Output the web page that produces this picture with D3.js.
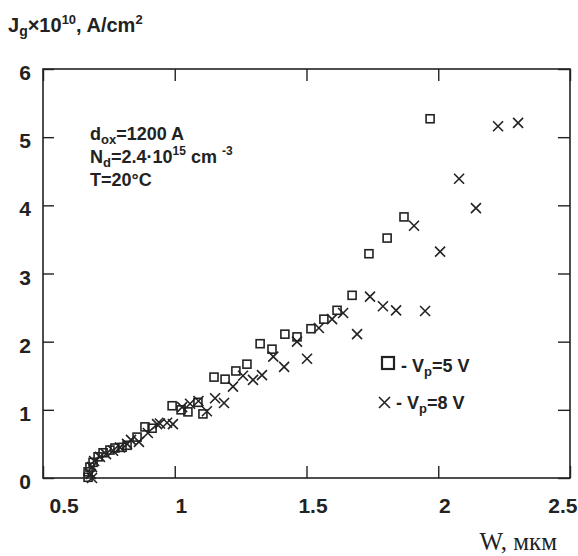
<!DOCTYPE html>
<html>
<head>
<meta charset="utf-8">
<script src="https://cdn.jsdelivr.net/npm/d3@7"></script>
<style>
  html, body { margin: 0; padding: 0; background: #fff; }
  svg { display: block; }
</style>
</head>
<body>
<svg id="chart" width="578" height="556"></svg>
<script>
// ---- data ----
const xTicks = [0.5, 1, 1.5, 2, 2.5];
const yTicks = [0, 1, 2, 3, 4, 5, 6];

const vp5W = [0.671, 0.671, 0.678, 0.690, 0.709, 0.728, 0.754, 0.773, 0.800, 0.819, 0.857, 0.887, 0.914,
  0.990, 1.024, 1.050, 1.088, 1.107, 1.149, 1.191, 1.232, 1.274, 1.324, 1.369, 1.418, 1.464, 1.517,
  1.566, 1.616, 1.673, 1.737, 1.806, 1.870, 1.969];
const vp5J = [0.01, 0.09, 0.16, 0.23, 0.31, 0.37, 0.41, 0.44, 0.45, 0.48, 0.60, 0.75, 0.73,
  1.06, 1.00, 0.97, 1.11, 0.94, 1.48, 1.45, 1.57, 1.67, 1.97, 1.89, 2.11, 2.07, 2.19,
  2.33, 2.46, 2.68, 3.29, 3.52, 3.83, 5.27];

const vp8W = [0.686, 0.682, 0.686, 0.694, 0.716, 0.739, 0.766, 0.792, 0.819, 0.834, 0.864, 0.898, 0.933,
  0.944, 0.971, 0.993, 1.028, 1.058, 1.090, 1.122, 1.153, 1.187, 1.221, 1.259, 1.297, 1.331, 1.374,
  1.415, 1.464, 1.502, 1.547, 1.597, 1.639, 1.692, 1.741, 1.790, 1.840, 1.908, 1.950, 2.007, 2.079,
  2.143, 2.227, 2.303];
const vp8J = [0.00, 0.06, 0.16, 0.25, 0.31, 0.35, 0.40, 0.45, 0.50, 0.56, 0.53, 0.66, 0.79,
  0.80, 0.81, 0.79, 1.04, 1.09, 1.13, 0.98, 1.17, 1.10, 1.34, 1.50, 1.44, 1.51, 1.78,
  1.63, 2.00, 1.75, 2.20, 2.33, 2.42, 2.11, 2.66, 2.52, 2.46, 3.70, 2.45, 3.32, 4.39,
  3.96, 5.16, 5.21];

// ---- layout ----
const svg = d3.select("#chart");
const L = 43, R = 570, T = 69, B = 478;
const x = d3.scaleLinear().domain([0.5, 2.5]).range([L, R]);
const y = d3.scaleLinear().domain([0, 6]).range([B, T]);
const ink = "#222";
const SANS = "'Liberation Sans', Arial, sans-serif";

function bold(sel, size) {
  return sel.style("font-family", SANS).style("font-weight", "bold").style("fill", ink)
    .style("font-size", size + "px");
}

// frame
svg.append("rect").attr("x", L).attr("y", T).attr("width", R - L).attr("height", B - T)
  .attr("fill", "none").attr("stroke", ink).attr("stroke-width", 1.6);

// bottom axis (inward ticks + labels)
const gx = svg.append("g").attr("transform", `translate(0,${B})`)
  .call(d3.axisBottom(x).tickValues(xTicks).tickSize(-12).tickSizeOuter(0).tickPadding(20)
    .tickFormat(d => String(d)));
gx.select(".domain").remove();
gx.selectAll("line").attr("stroke", ink).attr("stroke-width", 1.4);
bold(gx.selectAll("text"), 21)
  .each(function(d, i) {
    const t = d3.select(this);
    if (i === 0) t.attr("text-anchor", "start").attr("x", 6);
    else if (i === xTicks.length - 1) t.attr("text-anchor", "end").attr("x", 7);
    else t.attr("x", 6);
  });

// top axis (ticks only)
const gt = svg.append("g").attr("transform", `translate(0,${T})`)
  .call(d3.axisTop(x).tickValues(xTicks).tickSize(-12).tickSizeOuter(0).tickFormat(""));
gt.select(".domain").remove();
gt.selectAll("line").attr("stroke", ink).attr("stroke-width", 1.4);

// left axis
const gy = svg.append("g").attr("transform", `translate(${L},0)`)
  .call(d3.axisLeft(y).tickValues(yTicks).tickSize(-11).tickSizeOuter(0).tickPadding(12)
    .tickFormat(d3.format("d")));
gy.select(".domain").remove();
gy.selectAll("line").attr("stroke", ink).attr("stroke-width", 1.4);
bold(gy.selectAll("text"), 21).attr("dy", "0.5em");

// right axis (ticks only)
const gr = svg.append("g").attr("transform", `translate(${R},0)`)
  .call(d3.axisRight(y).tickValues(yTicks).tickSize(-12).tickSizeOuter(0).tickFormat(""));
gr.select(".domain").remove();
gr.selectAll("line").attr("stroke", ink).attr("stroke-width", 1.4);

// ---- markers ----
const sq = 8, xs = 5;
const d5 = vp5W.map((w, i) => ({ w, j: vp5J[i] }));
const d8 = vp8W.map((w, i) => ({ w, j: vp8J[i] }));

svg.append("g").selectAll("rect").data(d5).join("rect")
  .attr("x", d => x(d.w) - sq / 2).attr("y", d => y(d.j) - sq / 2)
  .attr("width", sq).attr("height", sq)
  .attr("fill", "none").attr("stroke", ink).attr("stroke-width", 1.6);

svg.append("g").selectAll("path").data(d8).join("path")
  .attr("d", d => {
    const cx = x(d.w), cy = y(d.j);
    return `M${cx - xs},${cy - xs}L${cx + xs},${cy + xs}M${cx - xs},${cy + xs}L${cx + xs},${cy - xs}`;
  })
  .attr("fill", "none").attr("stroke", ink).attr("stroke-width", 1.6);

// ---- texts ----
// y-axis title
const yt = bold(svg.append("text").attr("x", 8).attr("y", 32), 20);
yt.append("tspan").text("J");
yt.append("tspan").text("g").style("font-size", "14px").attr("dy", 4);
yt.append("tspan").text("×10").attr("dy", -4);
yt.append("tspan").text("10").style("font-size", "13px").attr("dy", -8);
yt.append("tspan").text(", A/cm").attr("dy", 8);
yt.append("tspan").text("2").style("font-size", "13px").attr("dy", -8);

// annotation
const a1 = bold(svg.append("text").attr("x", 90).attr("y", 140), 18);
a1.append("tspan").text("d");
a1.append("tspan").text("ox").style("font-size", "13px").attr("dy", 4);
a1.append("tspan").text("=1200 A").attr("dy", -4);

const a2 = bold(svg.append("text").attr("x", 90).attr("y", 163), 18);
a2.append("tspan").text("N");
a2.append("tspan").text("d").style("font-size", "13px").attr("dy", 4);
a2.append("tspan").text("=2.4·10").attr("dy", -4);
a2.append("tspan").text("15").style("font-size", "12px").attr("dy", -8);
a2.append("tspan").text(" cm ").attr("dy", 8);
a2.append("tspan").text("-3").style("font-size", "12px").attr("dy", -8);

bold(svg.append("text").attr("x", 90).attr("y", 186), 18).text("T=20°C");

// legend
svg.append("rect").attr("x", 382).attr("y", 357).attr("width", 12).attr("height", 12)
  .attr("fill", "none").attr("stroke", ink).attr("stroke-width", 2.2);
const l1 = bold(svg.append("text").attr("x", 401).attr("y", 372), 18);
l1.append("tspan").text("- V");
l1.append("tspan").text("p").style("font-size", "13px").attr("dy", 4);
l1.append("tspan").text("=5 V").attr("dy", -4);

svg.append("path")
  .attr("d", `M379,397L390,408M379,408L390,397`)
  .attr("fill", "none").attr("stroke", ink).attr("stroke-width", 1.6);
const l2 = bold(svg.append("text").attr("x", 396).attr("y", 409), 18);
l2.append("tspan").text("- V");
l2.append("tspan").text("p").style("font-size", "13px").attr("dy", 4);
l2.append("tspan").text("=8 V").attr("dy", -4);

// x-axis title
svg.append("text").attr("x", 557).attr("y", 550).attr("text-anchor", "end")
  .style("font-family", "'Liberation Serif', 'Times New Roman', serif").style("font-weight", "normal")
  .style("fill", ink).style("font-size", "25px").text("W, мкм");
</script>
</body>
</html>
